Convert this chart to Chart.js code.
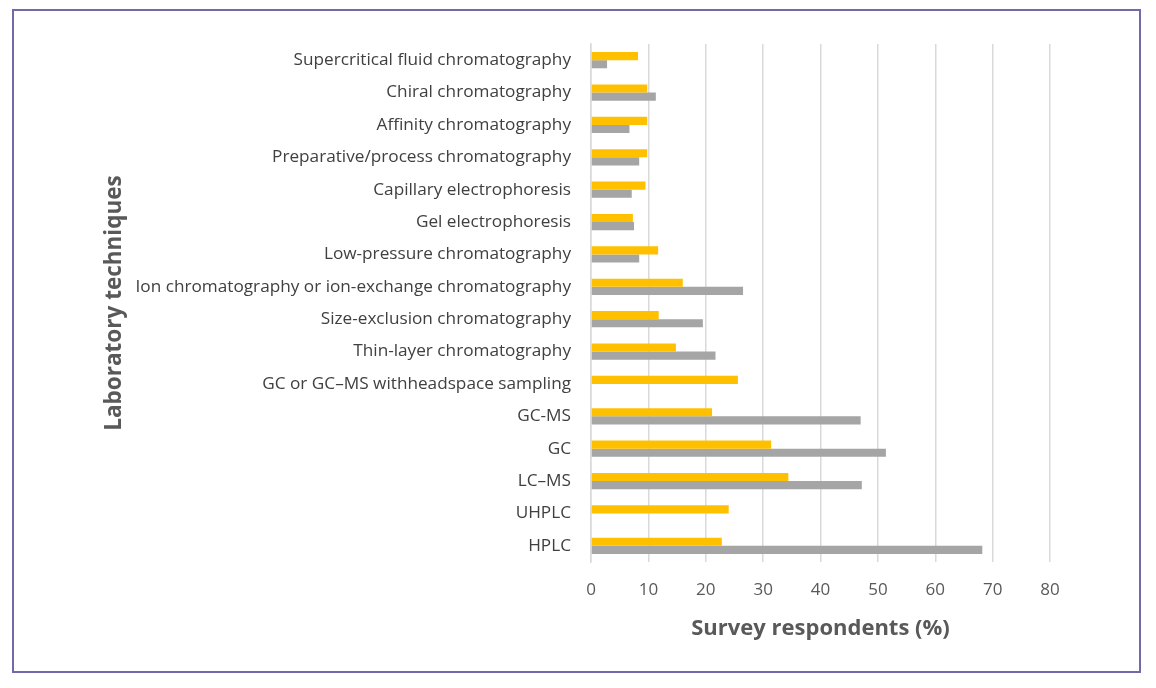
<!DOCTYPE html>
<html>
<head>
<meta charset="utf-8">
<script src="https://cdn.jsdelivr.net/npm/chart.js@4.4.1/dist/chart.umd.min.js"></script>
<style>
  html, body { margin: 0; padding: 0; background: #fff; }
  #wrap { position: relative; width: 1156px; height: 688px; }
  #frame { position: absolute; left: 12px; top: 9px; width: 1129px; height: 664px; border: 2px solid #7468ab; box-sizing: border-box; pointer-events: none; }
</style>
</head>
<body>
<div id="wrap">
  <canvas id="myChart" width="1156" height="688"></canvas>
  <div id="frame"></div>
</div>
<script>
// categories, top to bottom
const techniques = [
  "Supercritical fluid chromatography",
  "Chiral chromatography",
  "Affinity chromatography",
  "Preparative/process chromatography",
  "Capillary electrophoresis",
  "Gel electrophoresis",
  "Low-pressure chromatography",
  "Ion chromatography or ion-exchange chromatography",
  "Size-exclusion chromatography",
  "Thin-layer chromatography",
  "GC or GC\u2013MS withheadspace sampling",
  "GC-MS",
  "GC",
  "LC\u2013MS",
  "UHPLC",
  "HPLC"
];

// yellow series
const seriesYellow = [8.2, 9.8, 9.8, 9.8, 9.5, 7.3, 11.7, 16.0, 11.8, 14.8, 25.6, 21.1, 31.4, 34.4, 24.0, 22.8];
// gray series
const seriesGray = [2.8, 11.3, 6.7, 8.4, 7.1, 7.5, 8.4, 26.5, 19.5, 21.7, null, 47.0, 51.4, 47.2, null, 68.2];

const xTicks = [0, 10, 20, 30, 40, 50, 60, 70, 80];

const ctx = document.getElementById('myChart');

const chart = new Chart(ctx, {
  type: 'bar',
  data: {
    labels: techniques,
    datasets: [
      { label: "Series 1", data: seriesYellow, backgroundColor: "#ffc000", borderWidth: 0 },
      { label: "Series 2", data: seriesGray, backgroundColor: "#a5a5a5", borderWidth: 0 }
    ]
  },
  options: {
    indexAxis: 'y',
    responsive: false,
    animation: false,
    layout: { padding: { left: 97, right: 106, top: 44, bottom: 46 } },
    datasets: { bar: { categoryPercentage: 0.5, barPercentage: 1.0 } },
    plugins: { legend: { display: false }, tooltip: { enabled: false } },
    scales: {
      x: {
        min: 0,
        max: 80,
        afterBuildTicks: (scale) => { scale.ticks = xTicks.map(v => ({ value: v })); },
        afterFit: (scale) => { scale.height = 80; },
        grid: { color: '#d9d9d9', lineWidth: 1.5, drawTicks: false },
        border: { display: false },
        ticks: { color: '#595959', font: { family: 'Open Sans', size: 17 }, padding: 18 },
        title: {
          display: true,
          text: 'Survey respondents (%)',
          color: '#595959',
          font: { family: 'Open Sans', size: 22, weight: 'bold' },
          padding: { top: 0, bottom: 0 }
        }
      },
      y: {
        afterFit: (scale) => { scale.width = 494; },
        grid: { display: false, drawTicks: false },
        border: { display: true, color: '#d9d9d9', width: 1.5 },
        ticks: { color: '#404040', font: { family: 'Open Sans', size: 17.2 }, padding: 20, autoSkip: false },
        title: {
          display: true,
          text: 'Laboratory techniques',
          color: '#595959',
          font: { family: 'Open Sans', size: 22.5, weight: 'bold' },
          padding: { top: 4, bottom: 0 }
        }
      }
    }
  }
});
</script>
</body>
</html>
